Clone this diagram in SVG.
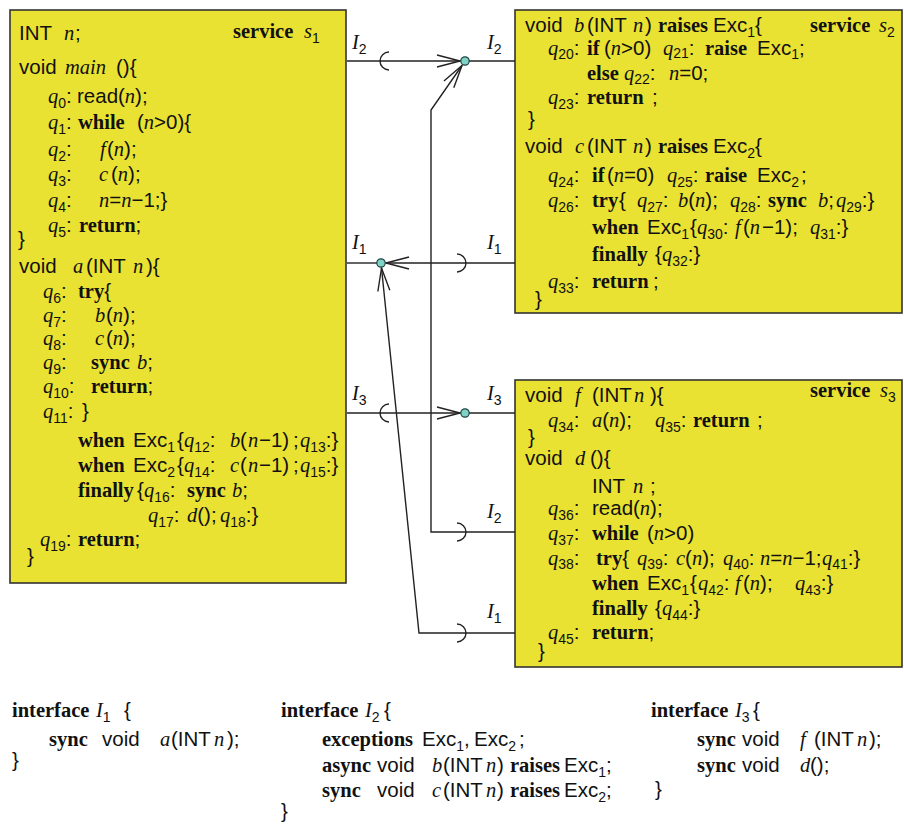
<svg xmlns="http://www.w3.org/2000/svg" width="904" height="826" viewBox="0 0 904 826">
<defs>
<style>
text{font-family:"Liberation Sans",Arial,sans-serif;font-size:20.5px;fill:#111}
.b{font-family:"Liberation Serif","Times New Roman",serif;font-weight:bold}
.i{font-family:"Liberation Serif","Times New Roman",serif;font-style:italic}
.s{font-family:"Liberation Sans",Arial,sans-serif;font-size:14px;font-style:normal;font-weight:normal}
.box{fill:#e9e232;stroke:#333;stroke-width:1.6}
.ln{fill:none;stroke:#222;stroke-width:1.4}
.dot{fill:#7fd3c6;stroke:#244;stroke-width:1.2}
</style>
<marker id="arr" markerUnits="userSpaceOnUse" markerWidth="26" markerHeight="16" viewBox="0 0 26 16" refX="24" refY="8" orient="auto"><path d="M1,2 L24,8 L1,14" fill="none" stroke="#222" stroke-width="1.4"/></marker>
</defs>
<rect width="904" height="826" fill="#fff"/>

<g id="s1">
<rect class="box" x="10" y="10" width="336" height="573"/>
<text x="19" y="40">INT<tspan class="i" x="64">n</tspan><tspan x="75">;</tspan></text>
<text y="38"><tspan class="b" x="233">service</tspan><tspan class="i" x="304">s</tspan><tspan class="s" dy="5">1</tspan></text>
<text x="19" y="74">void<tspan class="i" x="65">main</tspan><tspan x="116">(){</tspan></text>
<text y="103"><tspan class="i" x="48">q</tspan><tspan class="s" dy="5">0</tspan><tspan dy="-5">:</tspan><tspan x="77">read(</tspan><tspan class="i">n</tspan>);</text>
<text y="129"><tspan class="i" x="48">q</tspan><tspan class="s" dy="5">1</tspan><tspan dy="-5">:</tspan><tspan class="b" x="78">while</tspan><tspan x="137">(</tspan><tspan class="i">n</tspan>&gt;0){</text>
<text y="156"><tspan class="i" x="48">q</tspan><tspan class="s" dy="5">2</tspan><tspan dy="-5">:</tspan><tspan class="i" x="100">f</tspan><tspan x="107">(</tspan><tspan class="i">n</tspan>);</text>
<text y="181"><tspan class="i" x="48">q</tspan><tspan class="s" dy="5">3</tspan><tspan dy="-5">:</tspan><tspan class="i" x="99">c</tspan><tspan x="111">(</tspan><tspan class="i">n</tspan>);</text>
<text y="207"><tspan class="i" x="48">q</tspan><tspan class="s" dy="5">4</tspan><tspan dy="-5">:</tspan><tspan class="i" x="99">n</tspan>=<tspan class="i">n</tspan>−1;}</text>
<text y="232"><tspan class="i" x="48">q</tspan><tspan class="s" dy="5">5</tspan><tspan dy="-5">:</tspan><tspan class="b" x="79">return</tspan>;</text>
<text x="18" y="246">}</text>
<text x="19" y="273">void<tspan class="i" x="73">a</tspan><tspan x="86">(INT</tspan><tspan class="i" x="133">n</tspan><tspan x="146">){</tspan></text>
<text y="298"><tspan class="i" x="43">q</tspan><tspan class="s" dy="5">6</tspan><tspan dy="-5">:</tspan><tspan class="b" x="78">try</tspan>{</text>
<text y="322"><tspan class="i" x="43">q</tspan><tspan class="s" dy="5">7</tspan><tspan dy="-5">:</tspan><tspan class="i" x="95">b</tspan><tspan x="106">(</tspan><tspan class="i">n</tspan>);</text>
<text y="345"><tspan class="i" x="43">q</tspan><tspan class="s" dy="5">8</tspan><tspan dy="-5">:</tspan><tspan class="i" x="95">c</tspan><tspan x="106">(</tspan><tspan class="i">n</tspan>);</text>
<text y="369"><tspan class="i" x="43">q</tspan><tspan class="s" dy="5">9</tspan><tspan dy="-5">:</tspan><tspan class="b" x="91">sync</tspan><tspan class="i" x="137">b</tspan>;</text>
<text y="393"><tspan class="i" x="43">q</tspan><tspan class="s" dy="5">10</tspan><tspan dy="-5">:</tspan><tspan class="b" x="91">return</tspan>;</text>
<text y="418"><tspan class="i" x="43">q</tspan><tspan class="s" dy="5">11</tspan><tspan dy="-5">:</tspan><tspan x="82">}</tspan></text>
<text y="447"><tspan class="b" x="78">when</tspan><tspan x="133">Exc</tspan><tspan class="s" dy="5">1</tspan><tspan dy="-5" x="177">{</tspan><tspan class="i" x="184">q</tspan><tspan class="s" dy="5">12</tspan><tspan dy="-5">:</tspan><tspan class="i" x="230">b</tspan><tspan x="240">(</tspan><tspan class="i" x="248">n</tspan><tspan x="259">−1)</tspan><tspan x="293">;</tspan><tspan class="i" x="300">q</tspan><tspan class="s" dy="5">13</tspan><tspan dy="-5">:}</tspan></text>
<text y="472"><tspan class="b" x="78">when</tspan><tspan x="133">Exc</tspan><tspan class="s" dy="5">2</tspan><tspan dy="-5" x="177">{</tspan><tspan class="i" x="184">q</tspan><tspan class="s" dy="5">14</tspan><tspan dy="-5">:</tspan><tspan class="i" x="230">c</tspan><tspan x="240">(</tspan><tspan class="i" x="248">n</tspan><tspan x="259">−1)</tspan><tspan x="293">;</tspan><tspan class="i" x="300">q</tspan><tspan class="s" dy="5">15</tspan><tspan dy="-5">:}</tspan></text>
<text y="497"><tspan class="b" x="78">finally</tspan><tspan x="137">{</tspan><tspan class="i" x="144">q</tspan><tspan class="s" dy="5">16</tspan><tspan dy="-5">:</tspan><tspan class="b" x="187">sync</tspan><tspan class="i" x="232">b</tspan>;</text>
<text y="522"><tspan class="i" x="148">q</tspan><tspan class="s" dy="5">17</tspan><tspan dy="-5">:</tspan><tspan class="i" x="187">d</tspan>();<tspan class="i" x="220">q</tspan><tspan class="s" dy="5">18</tspan><tspan dy="-5">:}</tspan></text>
<text y="546"><tspan class="i" x="40">q</tspan><tspan class="s" dy="5">19</tspan><tspan dy="-5">:</tspan><tspan class="b" x="78">return</tspan>;</text>
<text x="27" y="563">}</text>
</g>

<g id="s2">
<rect class="box" x="515" y="10" width="387" height="303"/>
<text y="32"><tspan x="525">void</tspan><tspan class="i" x="574">b</tspan><tspan x="587">(INT</tspan><tspan class="i" x="633">n</tspan><tspan x="645">)</tspan><tspan class="b" x="658">raises</tspan><tspan x="713">Exc</tspan><tspan class="s" dy="5">1</tspan><tspan dy="-5">{</tspan></text>
<text y="32"><tspan class="b" x="810">service</tspan><tspan class="i" x="879">s</tspan><tspan class="s" dy="5">2</tspan></text>
<text y="55"><tspan class="i" x="548">q</tspan><tspan class="s" dy="4">20</tspan><tspan dy="-4">:</tspan><tspan class="b" x="587">if</tspan><tspan x="604">(</tspan><tspan class="i">n</tspan>&gt;0)<tspan class="i" x="663">q</tspan><tspan class="s" dy="3">21</tspan><tspan dy="-3">:</tspan><tspan class="b" x="705">raise</tspan><tspan x="757">Exc</tspan><tspan class="s" dy="4">1</tspan><tspan dy="-4">;</tspan></text>
<text y="80"><tspan class="b" x="587">else</tspan><tspan class="i" x="624">q</tspan><tspan class="s" dy="4">22</tspan><tspan dy="-4">:</tspan><tspan class="i" x="669">n</tspan>=0;</text>
<text y="104"><tspan class="i" x="548">q</tspan><tspan class="s" dy="5">23</tspan><tspan dy="-5">:</tspan><tspan class="b" x="587">return</tspan><tspan x="652">;</tspan></text>
<text x="528" y="126">}</text>
<text y="153"><tspan x="525">void</tspan><tspan class="i" x="575">c</tspan><tspan x="587">(INT</tspan><tspan class="i" x="633">n</tspan><tspan x="645">)</tspan><tspan class="b" x="658">raises</tspan><tspan x="713">Exc</tspan><tspan class="s" dy="5">2</tspan><tspan dy="-5">{</tspan></text>
<text y="182"><tspan class="i" x="548">q</tspan><tspan class="s" dy="5">24</tspan><tspan dy="-5">:</tspan><tspan class="b" x="592">if</tspan><tspan x="607">(</tspan><tspan class="i">n</tspan>=0)<tspan class="i" x="667">q</tspan><tspan class="s" dy="5">25</tspan><tspan dy="-5">:</tspan><tspan class="b" x="705">raise</tspan><tspan x="757">Exc</tspan><tspan class="s" dy="5">2</tspan><tspan dy="-5" x="801">;</tspan></text>
<text y="207"><tspan class="i" x="548">q</tspan><tspan class="s" dy="5">26</tspan><tspan dy="-5">:</tspan><tspan class="b" x="592">try</tspan><tspan x="619">{</tspan><tspan class="i" x="637">q</tspan><tspan class="s" dy="5">27</tspan><tspan dy="-5">:</tspan><tspan class="i" x="678">b</tspan>(<tspan class="i">n</tspan>);<tspan class="i" x="730">q</tspan><tspan class="s" dy="5">28</tspan><tspan dy="-5">:</tspan><tspan class="b" x="768">sync</tspan><tspan class="i" x="818">b</tspan>;<tspan class="i" x="836">q</tspan><tspan class="s" dy="5">29</tspan><tspan dy="-5">:}</tspan></text>
<text y="234"><tspan class="b" x="592">when</tspan><tspan x="647">Exc</tspan><tspan class="s" dy="5">1</tspan><tspan dy="-5" x="690">{</tspan><tspan class="i" x="697">q</tspan><tspan class="s" dy="5">30</tspan><tspan dy="-5">:</tspan><tspan class="i" x="735">f</tspan><tspan x="743">(</tspan><tspan class="i">n</tspan><tspan x="762">−1);</tspan><tspan class="i" x="810">q</tspan><tspan class="s" dy="5">31</tspan><tspan dy="-5">:}</tspan></text>
<text y="261"><tspan class="b" x="592">finally</tspan><tspan x="655">{</tspan><tspan class="i" x="662">q</tspan><tspan class="s" dy="5">32</tspan><tspan dy="-5">:}</tspan></text>
<text y="288"><tspan class="i" x="548">q</tspan><tspan class="s" dy="5">33</tspan><tspan dy="-5">:</tspan><tspan class="b" x="592">return</tspan><tspan x="653">;</tspan></text>
<text x="535" y="306">}</text>
</g>

<g id="s3">
<rect class="box" x="515" y="380" width="387" height="287"/>
<text y="402"><tspan x="525">void</tspan><tspan class="i" x="575">f</tspan><tspan x="592">(INT</tspan><tspan class="i" x="634">n</tspan><tspan x="650">){</tspan></text>
<text y="397"><tspan class="b" x="810">service</tspan><tspan class="i" x="880">s</tspan><tspan class="s" dy="5">3</tspan></text>
<text y="427"><tspan class="i" x="548">q</tspan><tspan class="s" dy="5">34</tspan><tspan dy="-5">:</tspan><tspan class="i" x="592">a</tspan>(<tspan class="i">n</tspan>);<tspan class="i" x="655">q</tspan><tspan class="s" dy="5">35</tspan><tspan dy="-5">:</tspan><tspan class="b" x="693">return</tspan><tspan x="757">;</tspan></text>
<text x="528" y="444">}</text>
<text y="465"><tspan x="525">void</tspan><tspan class="i" x="575">d</tspan><tspan x="590">(){</tspan></text>
<text y="493"><tspan x="592">INT</tspan><tspan class="i" x="633">n</tspan><tspan x="650">;</tspan></text>
<text y="515"><tspan class="i" x="548">q</tspan><tspan class="s" dy="5">36</tspan><tspan dy="-5">:</tspan><tspan x="592">read(</tspan><tspan class="i">n</tspan>);</text>
<text y="540"><tspan class="i" x="548">q</tspan><tspan class="s" dy="5">37</tspan><tspan dy="-5">:</tspan><tspan class="b" x="592">while</tspan><tspan x="647">(</tspan><tspan class="i">n</tspan>&gt;0)</text>
<text y="565"><tspan class="i" x="548">q</tspan><tspan class="s" dy="4">38</tspan><tspan dy="-4">:</tspan><tspan class="b" x="596">try</tspan>{<tspan class="i" x="637">q</tspan><tspan class="s" dy="4">39</tspan><tspan dy="-4">:</tspan><tspan class="i" x="676">c</tspan>(<tspan class="i">n</tspan>);<tspan class="i" x="723">q</tspan><tspan class="s" dy="4">40</tspan><tspan dy="-4">:</tspan><tspan class="i" x="760">n</tspan>=<tspan class="i">n</tspan>−1;<tspan class="i" x="822">q</tspan><tspan class="s" dy="4">41</tspan><tspan dy="-4">:}</tspan></text>
<text y="590"><tspan class="b" x="592">when</tspan><tspan x="647">Exc</tspan><tspan class="s" dy="5">1</tspan><tspan dy="-5" x="690">{</tspan><tspan class="i" x="698">q</tspan><tspan class="s" dy="5">42</tspan><tspan dy="-5">:</tspan><tspan class="i" x="735">f</tspan><tspan x="743">(</tspan><tspan class="i">n</tspan>);<tspan class="i" x="795">q</tspan><tspan class="s" dy="5">43</tspan><tspan dy="-5">:}</tspan></text>
<text y="615"><tspan class="b" x="592">finally</tspan><tspan x="655">{</tspan><tspan class="i" x="662">q</tspan><tspan class="s" dy="5">44</tspan><tspan dy="-5">:}</tspan></text>
<text y="639"><tspan class="i" x="548">q</tspan><tspan class="s" dy="5">45</tspan><tspan dy="-5">:</tspan><tspan class="b" x="592">return</tspan>;</text>
<text x="538" y="658">}</text>
</g>

<g id="connectors">
<path class="ln" d="M347,61 H460" marker-end="url(#arr)"/>
<path class="ln" d="M469,61 H515"/>
<path class="ln" d="M389,52 A9,9 0 0 0 389,70"/>
<path class="ln" d="M515,532 H431 V110 L462,65.5" marker-end="url(#arr)"/>
<path class="ln" d="M457,523 A9,9 0 0 1 457,541"/>
<path class="ln" d="M515,263 H386" marker-end="url(#arr)"/>
<path class="ln" d="M347,263 H377"/>
<path class="ln" d="M457,254 A9,9 0 0 1 457,272"/>
<path class="ln" d="M515,633 H419 L381.5,268" marker-end="url(#arr)"/>
<path class="ln" d="M457,624 A9,9 0 0 1 457,642"/>
<path class="ln" d="M347,413 H460" marker-end="url(#arr)"/>
<path class="ln" d="M469,413 H515"/>
<path class="ln" d="M389,404 A9,9 0 0 0 389,422"/>
<circle class="dot" cx="465" cy="61" r="4.2"/>
<circle class="dot" cx="381" cy="263" r="4.2"/>
<circle class="dot" cx="465" cy="413" r="4.2"/>
<text y="49"><tspan class="i" x="352">I</tspan><tspan class="s" dy="5">2</tspan></text>
<text y="49"><tspan class="i" x="487">I</tspan><tspan class="s" dy="5">2</tspan></text>
<text y="249"><tspan class="i" x="352">I</tspan><tspan class="s" dy="5">1</tspan></text>
<text y="249"><tspan class="i" x="487">I</tspan><tspan class="s" dy="5">1</tspan></text>
<text y="400"><tspan class="i" x="352">I</tspan><tspan class="s" dy="5">3</tspan></text>
<text y="400"><tspan class="i" x="487">I</tspan><tspan class="s" dy="5">3</tspan></text>
<text y="518"><tspan class="i" x="487">I</tspan><tspan class="s" dy="5">2</tspan></text>
<text y="618"><tspan class="i" x="487">I</tspan><tspan class="s" dy="5">1</tspan></text>
</g>

<g id="iface1">
<text y="717"><tspan class="b" x="12">interface</tspan><tspan class="i" x="96">I</tspan><tspan class="s" dy="5">1</tspan><tspan dy="-5" x="124">{</tspan></text>
<text y="746"><tspan class="b" x="49">sync</tspan><tspan x="102">void</tspan><tspan class="i" x="160">a</tspan><tspan x="171">(INT</tspan><tspan class="i" x="214">n</tspan><tspan x="227">);</tspan></text>
<text x="12" y="767">}</text>
</g>

<g id="iface2">
<text y="717"><tspan class="b" x="281">interface</tspan><tspan class="i" x="365">I</tspan><tspan class="s" dy="5">2</tspan><tspan dy="-5" x="384">{</tspan></text>
<text y="746"><tspan class="b" x="322">exceptions</tspan><tspan x="422">Exc</tspan><tspan class="s" dy="5">1</tspan><tspan dy="-5">,</tspan><tspan x="474">Exc</tspan><tspan class="s" dy="5">2</tspan><tspan dy="-5" x="519">;</tspan></text>
<text y="772"><tspan class="b" x="322">async</tspan><tspan x="377">void</tspan><tspan class="i" x="432">b</tspan><tspan x="443">(INT</tspan><tspan class="i" x="486">n</tspan><tspan x="497">)</tspan><tspan class="b" x="510">raises</tspan><tspan x="564">Exc</tspan><tspan class="s" dy="5">1</tspan><tspan dy="-5">;</tspan></text>
<text y="797"><tspan class="b" x="322">sync</tspan><tspan x="377">void</tspan><tspan class="i" x="432">c</tspan><tspan x="443">(INT</tspan><tspan class="i" x="486">n</tspan><tspan x="497">)</tspan><tspan class="b" x="510">raises</tspan><tspan x="564">Exc</tspan><tspan class="s" dy="5">2</tspan><tspan dy="-5">;</tspan></text>
<text x="281" y="818">}</text>
</g>

<g id="iface3">
<text y="717"><tspan class="b" x="651">interface</tspan><tspan class="i" x="735">I</tspan><tspan class="s" dy="5">3</tspan><tspan dy="-5" x="753">{</tspan></text>
<text y="746"><tspan class="b" x="697">sync</tspan><tspan x="742">void</tspan><tspan class="i" x="800">f</tspan><tspan x="814">(INT</tspan><tspan class="i" x="857">n</tspan><tspan x="869">);</tspan></text>
<text y="772"><tspan class="b" x="697">sync</tspan><tspan x="742">void</tspan><tspan class="i" x="800">d</tspan><tspan x="810">();</tspan></text>
<text x="655" y="796">}</text>
</g>
</svg>
